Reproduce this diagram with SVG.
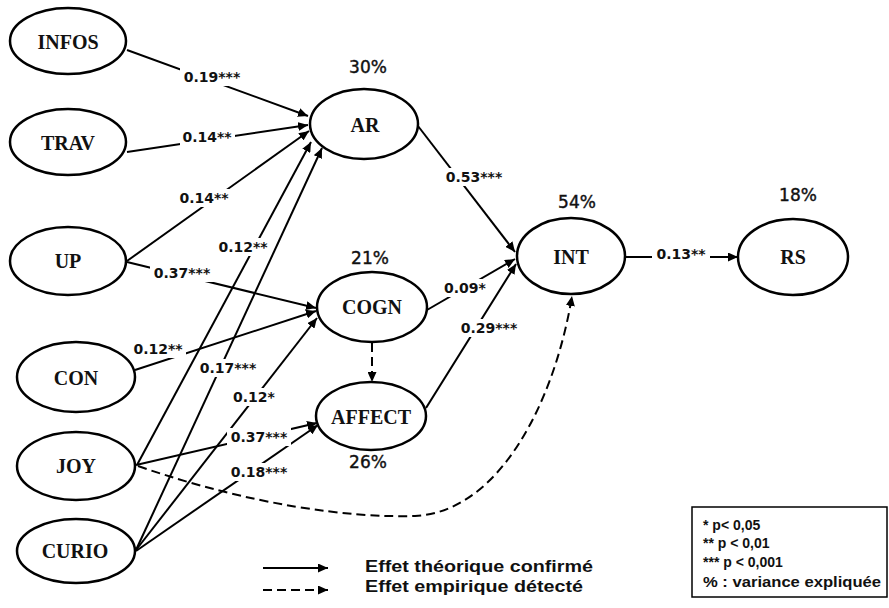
<svg xmlns="http://www.w3.org/2000/svg" width="889" height="608" viewBox="0 0 889 608">
<defs>
<marker id="arr" markerUnits="userSpaceOnUse" markerWidth="11" markerHeight="9" refX="10" refY="4.5" orient="auto">
<path d="M0,0 L10,4.5 L0,9 z" fill="#000"/>
</marker>
</defs>
<style>
.node ellipse{fill:#fff;stroke:#000;stroke-width:2.5}
.node text.nm{font-family:"Liberation Serif","Times New Roman",serif;font-weight:bold;font-size:20px;text-anchor:middle;dominant-baseline:central;fill:#111}
.node text.pct{font-family:"DejaVu Sans",Verdana,sans-serif;font-size:17px;text-anchor:middle;dominant-baseline:central;fill:#111;stroke:#111;stroke-width:0.4}
.edge{fill:none;stroke:#000;stroke-width:2;marker-end:url(#arr)}
.dash{stroke-dasharray:9 5}
.lbl text{font-family:"DejaVu Sans",Verdana,sans-serif;font-weight:bold;font-size:14px;text-anchor:middle;dominant-baseline:central;fill:#111}
.lbl rect{fill:#fff}
.leg{font-family:"Liberation Sans",Arial,sans-serif;font-weight:bold;fill:#111}
</style>
<rect width="889" height="608" fill="#fff"/>

<g id="connectors">
<line class="edge" x1="127" y1="50" x2="308" y2="116"/>
<line class="edge" x1="127" y1="152" x2="308" y2="125"/>
<line class="edge" x1="127" y1="261" x2="309" y2="131"/>
<line class="edge" x1="127" y1="262" x2="316" y2="308"/>
<line class="edge" x1="135" y1="370" x2="316" y2="311"/>
<line class="edge" x1="137" y1="465" x2="311" y2="142"/>
<line class="edge" x1="136" y1="550" x2="322" y2="148"/>
<line class="edge" x1="136" y1="550" x2="317" y2="318"/>
<line class="edge" x1="136" y1="465" x2="317" y2="423"/>
<line class="edge" x1="136" y1="551" x2="318" y2="425"/>
<line class="edge dash" x1="372" y1="343" x2="372" y2="382"/>
<line class="edge" x1="418" y1="126" x2="515" y2="252"/>
<line class="edge" x1="427" y1="310" x2="515" y2="259"/>
<line class="edge" x1="426" y1="408" x2="516" y2="264"/>
<line class="edge" x1="625" y1="257" x2="738" y2="257"/>
<path class="edge dash" d="M138,466 C250,505 350,518 415,516 C500,512 555,400 572,296"/>
</g>

<g id="edge-labels" class="lbl">
<rect x="180" y="68" width="64" height="18"/><text x="212" y="77">0.19***</text>
<rect x="180" y="128" width="55" height="18"/><text x="207" y="137">0.14**</text>
<rect x="177" y="189" width="55" height="18"/><text x="204" y="198">0.14**</text>
<rect x="150" y="264" width="64" height="18"/><text x="182" y="273">0.37***</text>
<rect x="216" y="238" width="55" height="18"/><text x="243" y="247">0.12**</text>
<rect x="131" y="340" width="55" height="18"/><text x="158" y="349">0.12**</text>
<rect x="196" y="359" width="64" height="18"/><text x="228" y="368">0.17***</text>
<rect x="231" y="388" width="47" height="18"/><text x="254" y="397">0.12*</text>
<rect x="227" y="428" width="64" height="18"/><text x="259" y="437">0.37***</text>
<rect x="227" y="463" width="64" height="18"/><text x="259" y="472">0.18***</text>
<rect x="442" y="168" width="64" height="18"/><text x="474" y="177">0.53***</text>
<rect x="442" y="279" width="47" height="18"/><text x="465" y="288">0.09*</text>
<rect x="457" y="319" width="64" height="18"/><text x="489" y="328">0.29***</text>
<rect x="652" y="245" width="58" height="18"/><text x="681" y="254">0.13**</text>
</g>

<g id="node-INFOS" class="node"><ellipse cx="68" cy="41" rx="58" ry="33"/><text class="nm" x="68" y="42">INFOS</text></g>
<g id="node-TRAV" class="node"><ellipse cx="68" cy="142" rx="58" ry="33"/><text class="nm" x="68" y="143">TRAV</text></g>
<g id="node-UP" class="node"><ellipse cx="68" cy="261" rx="58" ry="34"/><text class="nm" x="68" y="261">UP</text></g>
<g id="node-CON" class="node"><ellipse cx="76" cy="377" rx="59" ry="35"/><text class="nm" x="76" y="378">CON</text></g>
<g id="node-JOY" class="node"><ellipse cx="76" cy="466" rx="59" ry="34"/><text class="nm" x="76" y="466">JOY</text></g>
<g id="node-CURIO" class="node"><ellipse cx="76" cy="551" rx="59" ry="32"/><text class="nm" x="75" y="551">CURIO</text></g>
<g id="node-AR" class="node"><ellipse cx="364" cy="124" rx="54" ry="35"/><text class="nm" x="365" y="125">AR</text><text class="pct" x="368" y="67">30%</text></g>
<g id="node-COGN" class="node"><ellipse cx="372" cy="307" rx="55" ry="35"/><text class="nm" x="372" y="307">COGN</text><text class="pct" x="370" y="258">21%</text></g>
<g id="node-AFFECT" class="node"><ellipse cx="371" cy="416" rx="55" ry="34"/><text class="nm" x="371" y="417">AFFECT</text><text class="pct" x="368" y="462">26%</text></g>
<g id="node-INT" class="node"><ellipse cx="571" cy="256" rx="54" ry="38"/><text class="nm" x="571" y="257">INT</text><text class="pct" x="577" y="202">54%</text></g>
<g id="node-RS" class="node"><ellipse cx="793" cy="257" rx="55" ry="38"/><text class="nm" x="793" y="257">RS</text><text class="pct" x="798" y="195">18%</text></g>

<g id="legend-lines">
<line class="edge" x1="263" y1="568" x2="328" y2="568"/>
<line class="edge dash" x1="263" y1="590" x2="328" y2="590"/>
<text class="leg" x="365" y="572" font-size="17" textLength="228" lengthAdjust="spacingAndGlyphs">Effet théorique confirmé</text>
<text class="leg" x="365" y="592" font-size="17" textLength="218" lengthAdjust="spacingAndGlyphs">Effet empirique détecté</text>
</g>

<g id="legend-box">
<rect x="692" y="507" width="195" height="90" fill="#fff" stroke="#000" stroke-width="1.5"/>
<text class="leg" x="703" y="530" font-size="14">* p&lt; 0,05</text>
<text class="leg" x="703" y="548" font-size="14">** p &lt; 0,01</text>
<text class="leg" x="703" y="567" font-size="14">*** p &lt; 0,001</text>
<text class="leg" x="703" y="587" font-size="14" textLength="178" lengthAdjust="spacingAndGlyphs">% : variance expliquée</text>
</g>
</svg>
